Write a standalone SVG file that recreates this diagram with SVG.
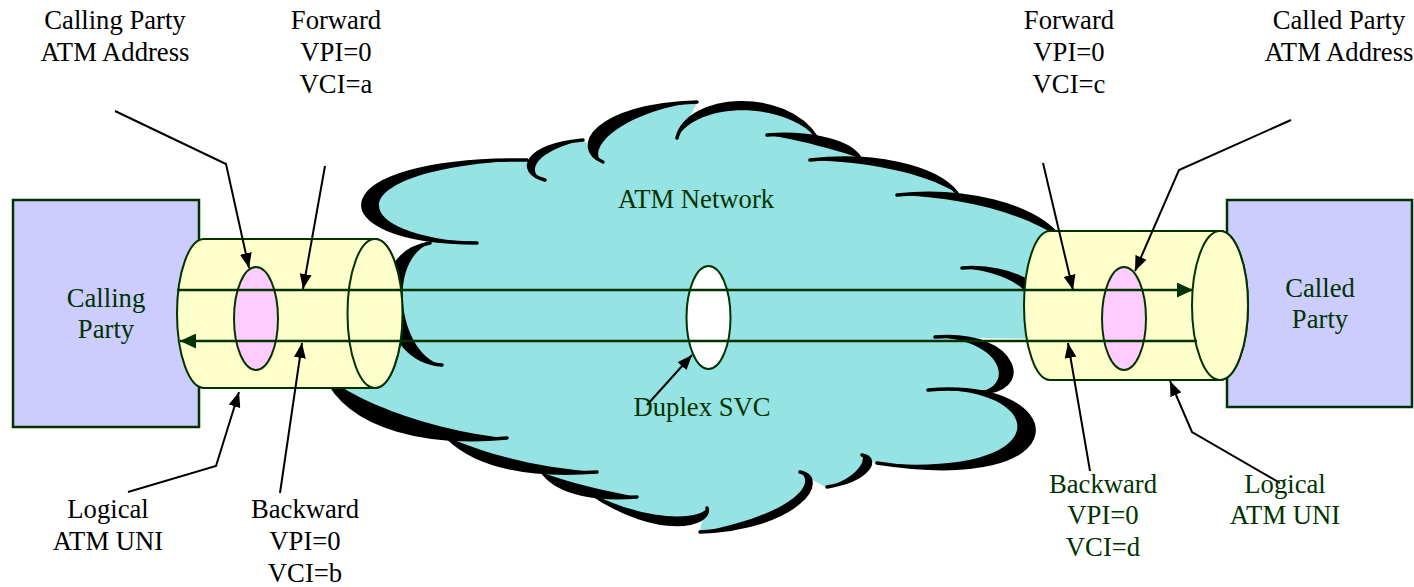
<svg xmlns="http://www.w3.org/2000/svg" xmlns:xlink="http://www.w3.org/1999/xlink" width="1414" height="587" viewBox="0 0 1414 587">
  <defs>
    <style>
      .lbl { font-family: "Liberation Serif", "Times New Roman", serif; font-size: 26.67px; text-anchor: middle; }
      .blk { fill: #000000; }
      .grn { fill: #003300; }
      .sky { fill: #95E3E3; stroke: #95E3E3; stroke-width: 1.5; stroke-linejoin: round; }
      .rim { fill: none; stroke: #000000; stroke-width: 3.5; stroke-linecap: round; }
      .ink { fill: #000000; stroke: none; }
      .box { fill: #CCCCFF; stroke: #003300; stroke-width: 2.5; }
      .tube { fill: #FFFFCC; stroke: #003300; stroke-width: 2; }
      .vc { fill: #FFCCFF; stroke: #003300; stroke-width: 2; }
      .svc { fill: #FFFFFF; stroke: #003300; stroke-width: 2; }
      .flow { fill: none; stroke: #003300; stroke-width: 2.5; marker-end: url(#gArrow); }
      .ptr { fill: none; stroke: #000000; stroke-width: 2; marker-end: url(#kArrow); }
    </style>
    <marker id="kArrow" viewBox="0 0 15 12" refX="15" refY="6" markerWidth="15" markerHeight="12" markerUnits="userSpaceOnUse" orient="auto">
      <path d="M0,0 L15,6 L0,12 Z" fill="#000000"/>
    </marker>
    <marker id="gArrow" viewBox="0 0 16 15" refX="16" refY="7.5" markerWidth="16" markerHeight="15" markerUnits="userSpaceOnUse" orient="auto">
      <path d="M0,0 L16,7.5 L0,15 Z" fill="#003300"/>
    </marker>
    <!-- outer edge of each cloud bump, running from its inner tail to the next cusp -->
    <path id="bL"   d="M477,243 C315,242 320,158 527,160"/>
    <path id="bT1"  d="M545,180 C515,172 525,145 583,140"/>
    <path id="bT2"  d="M603,162 C570,148 595,105 697,102"/>
    <path id="bT3"  d="M677,138 C688,94 785,88 817,138"/>
    <path id="bT4"  d="M767,135 C800,132 848,138 860,158"/>
    <path id="bT5"  d="M810,160 C870,153 935,165 957,193"/>
    <path id="bT6"  d="M897,195 C960,188 1035,203 1062,240"/>
    <path id="bR0"  d="M962,268 C1010,264 1075,290 1032,338"/>
    <path id="bR1"  d="M935,337 C1020,330 1035,395 977,392"/>
    <path id="bR2"  d="M928,390 C1070,378 1085,495 877,463"/>
    <path id="bB1"  d="M862,455 C880,458 870,480 827,487"/>
    <path id="bB2"  d="M800,472 C830,478 800,528 700,532"/>
    <path id="bB3"  d="M707,508 C712,525 660,540 590,493"/>
    <path id="bB4"  d="M637,497 C600,500 560,495 543,473"/>
    <path id="bB5"  d="M597,472 C540,476 480,470 447,437"/>
    <path id="bL3"  d="M507,438 C430,445 350,430 325,375"/>
    <path id="bL2"  d="M442,365 C380,362 360,255 430,243"/>
  </defs>

  <!-- ATM network cloud -->
  <g id="atm-network">
    <path class="sky" d="M477,243 L527,160 L545,180 L583,140 L603,162 L697,102 L677,138 L817,138 L767,135 L860,158
      L810,160 L957,193 L897,195 L1062,240 L1040,300 L962,268 L1032,338 L935,337 L977,392 L928,390 L877,463 L862,455 L827,487
      L800,472 L700,532 L707,508 L590,493 L637,497 L543,473 L597,472 L447,437 L507,438 L325,375 L380,330 L442,365 L430,243 Z"/>
    <g class="sky">
      <use xlink:href="#bL"/><use xlink:href="#bT1"/><use xlink:href="#bT2"/><use xlink:href="#bT3"/>
      <use xlink:href="#bT4"/><use xlink:href="#bT5"/><use xlink:href="#bT6"/><use xlink:href="#bR0"/>
      <use xlink:href="#bR1"/><use xlink:href="#bR2"/><use xlink:href="#bB1"/><use xlink:href="#bB2"/>
      <use xlink:href="#bB3"/><use xlink:href="#bB4"/><use xlink:href="#bB5"/><use xlink:href="#bL3"/>
      <use xlink:href="#bL2"/>
    </g>
    <g class="rim">
      <use xlink:href="#bL"/><use xlink:href="#bT1"/><use xlink:href="#bT2"/><use xlink:href="#bT3"/>
      <use xlink:href="#bT4"/><use xlink:href="#bT5"/><use xlink:href="#bT6"/><use xlink:href="#bR0"/>
      <use xlink:href="#bR1"/><use xlink:href="#bR2"/><use xlink:href="#bB1"/><use xlink:href="#bB2"/>
      <use xlink:href="#bB3"/><use xlink:href="#bB4"/><use xlink:href="#bB5"/><use xlink:href="#bL3"/>
      <use xlink:href="#bL2"/>
    </g>
    <!-- swelling of each stroke -->
    <path class="ink" d="M477,243 C315,242 320,158 527,160 C340,168 338,234 477,243 Z"/>
    <path class="ink" d="M545,180 C515,172 525,145 583,140 C532,152 526,174 545,180 Z"/>
    <path class="ink" d="M603,162 C570,148 595,105 697,102 C620,112 585,150 603,162 Z"/>
    <path class="ink" d="M677,138 C688,94 785,88 817,138 C782,100 697,102 677,138 Z"/>
    <path class="ink" d="M767,135 C800,132 848,138 860,158 C836,150 800,140 767,135 Z"/>
    <path class="ink" d="M810,160 C870,153 935,165 957,193 C922,172 868,162 810,160 Z"/>
    <path class="ink" d="M897,195 C960,188 1035,203 1062,240 C1025,212 958,197 897,195 Z"/>
    <path class="ink" d="M962,268 C1010,264 1075,290 1032,338 C1050,290 1005,272 962,268 Z"/>
    <path class="ink" d="M935,337 C1020,330 1035,395 977,392 C1015,388 1005,340 935,337 Z"/>
    <path class="ink" d="M928,390 C1070,378 1085,495 877,463 C1060,478 1050,386 928,390 Z"/>
    <path class="ink" d="M862,455 C880,458 870,480 827,487 C856,478 866,462 862,455 Z"/>
    <path class="ink" d="M800,472 C830,478 800,528 700,532 C790,515 818,484 800,472 Z"/>
    <path class="ink" d="M707,508 C712,525 660,540 590,493 C655,525 702,518 707,508 Z"/>
    <path class="ink" d="M637,497 C600,500 560,495 543,473 C568,482 600,490 637,497 Z"/>
    <path class="ink" d="M597,472 C540,476 480,470 447,437 C488,455 540,468 597,472 Z"/>
    <path class="ink" d="M507,438 C430,445 350,430 325,375 C360,405 440,432 507,438 Z"/>
    <path class="ink" d="M442,365 C380,362 360,255 430,243 C385,262 400,355 442,365 Z"/>
  </g>

  <!-- end systems -->
  <g id="calling-party">
    <rect class="box" x="13" y="200" width="186" height="227"/>
  </g>
  <g id="called-party">
    <rect class="box" x="1227" y="200" width="185" height="207"/>
  </g>

  <!-- logical UNIs drawn as pipes -->
  <g id="uni-left">
    <path class="tube" d="M204,239 L375,239 A27.5,74.5 0 0 1 375,388 L204,388 A27,74.5 0 0 1 204,239 Z"/>
    <ellipse class="tube" cx="375" cy="313.5" rx="27.5" ry="74.5"/>
    <ellipse class="vc" cx="256" cy="318.5" rx="22" ry="51.5"/>
  </g>
  <g id="uni-right">
    <path class="tube" d="M1050,231 L1220,231 A28,74.5 0 0 1 1220,380 L1050,380 A26,74.5 0 0 1 1050,231 Z"/>
    <ellipse class="tube" cx="1220" cy="305.5" rx="28" ry="74.5"/>
    <ellipse class="vc" cx="1124" cy="318.5" rx="22" ry="51.5"/>
  </g>
  <g id="duplex-svc">
    <ellipse class="svc" cx="708.5" cy="317.5" rx="22" ry="51.5"/>
  </g>

  <!-- connectors -->
  <g id="connectors">
    <line class="flow" x1="177" y1="290" x2="1193" y2="290"/>
    <line class="flow" x1="1197" y1="341" x2="180" y2="341"/>
    <polyline class="ptr" points="115,111 226,164 249,268"/>
    <line class="ptr" x1="325" y1="166" x2="303" y2="289"/>
    <line class="ptr" x1="280" y1="493" x2="302" y2="343"/>
    <polyline class="ptr" points="128,492 216,466 239,392"/>
    <line class="ptr" x1="1043" y1="163" x2="1073" y2="290"/>
    <polyline class="ptr" points="1291,120 1179,170 1135,271"/>
    <line class="ptr" x1="1090" y1="471" x2="1068" y2="343"/>
    <polyline class="ptr" points="1280,483 1192,432 1170,381"/>
    <line class="ptr" x1="647" y1="405" x2="692" y2="355"/>
  </g>

  <!-- labels -->
  <g id="labels">
    <text class="lbl blk" x="115" y="29">Calling Party</text>
    <text class="lbl blk" x="115" y="61">ATM Address</text>
    <text class="lbl blk" x="336" y="29">Forward</text>
    <text class="lbl blk" x="336" y="61">VPI=0</text>
    <text class="lbl blk" x="336" y="93">VCI=a</text>
    <text class="lbl blk" x="1069" y="29">Forward</text>
    <text class="lbl blk" x="1069" y="61">VPI=0</text>
    <text class="lbl blk" x="1069" y="93">VCI=c</text>
    <text class="lbl blk" x="1339" y="29">Called Party</text>
    <text class="lbl blk" x="1339" y="61">ATM Address</text>
    <text class="lbl grn" x="696" y="208">ATM Network</text>
    <text class="lbl grn" x="106" y="307">Calling</text>
    <text class="lbl grn" x="106" y="338">Party</text>
    <text class="lbl grn" x="1320" y="297">Called</text>
    <text class="lbl grn" x="1320" y="328">Party</text>
    <text class="lbl grn" x="702" y="416">Duplex SVC</text>
    <text class="lbl blk" x="108" y="518">Logical</text>
    <text class="lbl blk" x="108" y="550">ATM UNI</text>
    <text class="lbl blk" x="305" y="518">Backward</text>
    <text class="lbl blk" x="305" y="550">VPI=0</text>
    <text class="lbl blk" x="305" y="582">VCI=b</text>
    <text class="lbl grn" x="1103" y="493">Backward</text>
    <text class="lbl grn" x="1103" y="524">VPI=0</text>
    <text class="lbl grn" x="1103" y="556">VCI=d</text>
    <text class="lbl grn" x="1285" y="493">Logical</text>
    <text class="lbl grn" x="1285" y="524">ATM UNI</text>
  </g>
</svg>
